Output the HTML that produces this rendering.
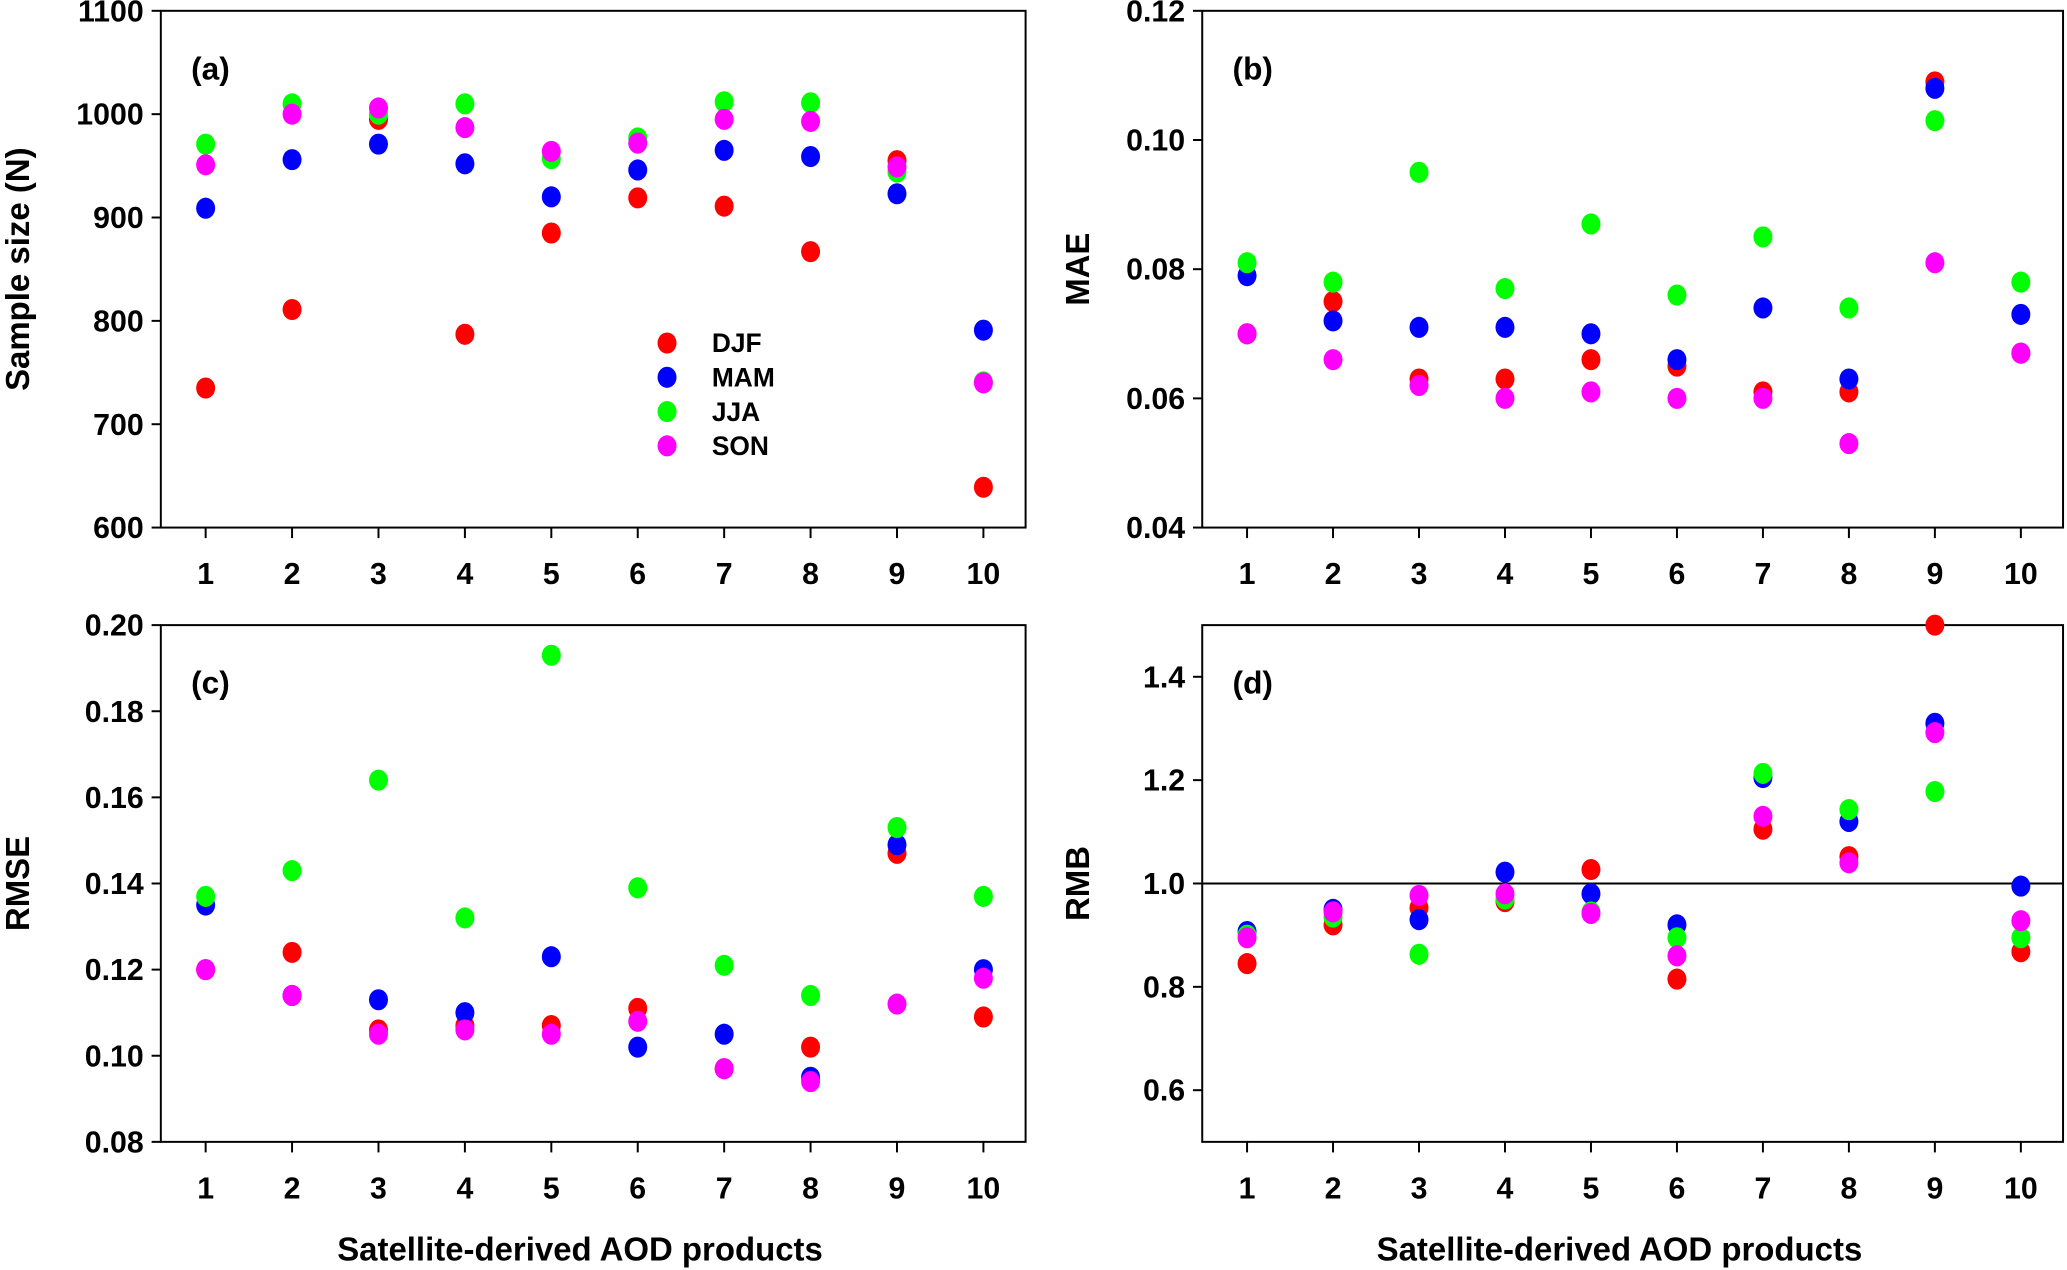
<!DOCTYPE html>
<html><head><meta charset="utf-8"><style>
html,body{margin:0;padding:0;background:#fff;}
svg{display:block;}
text{font-family:"Liberation Sans Narrow","Liberation Sans",sans-serif;font-weight:bold;fill:#000;}
.ttl{font-family:"Liberation Sans",sans-serif;}
</style></head><body>
<svg id="chart" width="2067" height="1270" viewBox="0 0 1568 963" xmlns="http://www.w3.org/2000/svg"></svg>
<script>
const categories=[1,2,3,4,5,6,7,8,9,10];
const seasons=["DJF","MAM","JJA","SON"];
const colors=["#ff0000","#0000ff","#00ff00","#ff00ff"];
const aDJF=[735,811,995,787,885,919,911,867,955,639];
const aMAM=[909,956,971,952,920,946,965,959,923,791];
const aJJA=[971,1010,1000,1010,957,977,1012,1011,944,741];
const aSON=[951,1000,1006,987,964,972,995,993,949,740];
const bDJF=[0.070,0.075,0.063,0.063,0.066,0.065,0.061,0.061,0.109,0.067];
const bMAM=[0.079,0.072,0.071,0.071,0.070,0.066,0.074,0.063,0.108,0.073];
const bJJA=[0.081,0.078,0.095,0.077,0.087,0.076,0.085,0.074,0.103,0.078];
const bSON=[0.070,0.066,0.062,0.060,0.061,0.060,0.060,0.053,0.081,0.067];
const cDJF=[0.120,0.124,0.106,0.107,0.107,0.111,0.097,0.102,0.147,0.109];
const cMAM=[0.135,0.114,0.113,0.110,0.123,0.102,0.105,0.095,0.149,0.120];
const cJJA=[0.137,0.143,0.164,0.132,0.193,0.139,0.121,0.114,0.153,0.137];
const cSON=[0.120,0.114,0.105,0.106,0.105,0.108,0.097,0.094,0.112,0.118];
const dDJF=[0.845,0.92,0.953,0.965,1.027,0.815,1.105,1.052,1.5,0.868];
const dMAM=[0.907,0.95,0.93,1.022,0.98,0.92,1.205,1.12,1.31,0.995];
const dJJA=[0.90,0.935,0.863,0.97,0.945,0.895,1.213,1.143,1.178,0.895];
const dSON=[0.895,0.945,0.977,0.98,0.942,0.86,1.13,1.04,1.292,0.928];
const aTicks=["600","700","800","900","1000","1100"];
const bTicks=["0.04","0.06","0.08","0.10","0.12"];
const cTicks=["0.08","0.10","0.12","0.14","0.16","0.18","0.20"];
const dTicks=["0.6","0.8","1.0","1.2","1.4"];

const NS="http://www.w3.org/2000/svg";
const svg=document.getElementById('chart');
function mk(tag,attrs,parent,txt){const e=document.createElementNS(NS,tag);for(const k in attrs)e.setAttribute(k,attrs[k]);if(txt!==undefined)e.textContent=txt;(parent||svg).appendChild(e);return e;}

const panels=[
 {id:"a",x0:122,x1:778,y0:8,y1:400,min:600,max:1100,ticks:aTicks,series:[aDJF,aMAM,aJJA,aSON],ytitle:"Sample size (N)",ytx:22,ref:null},
 {id:"b",x0:912,x1:1565,y0:8,y1:400,min:0.04,max:0.12,ticks:bTicks,series:[bDJF,bMAM,bJJA,bSON],ytitle:"MAE",ytx:826,ref:null},
 {id:"c",x0:122,x1:778,y0:474,y1:866,min:0.08,max:0.20,ticks:cTicks,series:[cDJF,cMAM,cJJA,cSON],ytitle:"RMSE",ytx:22,ref:null},
 {id:"d",x0:912,x1:1565,y0:474,y1:866,min:0.5,max:1.5,ticks:dTicks,series:[dDJF,dMAM,dJJA,dSON],ytitle:"RMB",ytx:826,ref:1.0}
];
panels.forEach(p=>{
 const g=mk('g',{});
 
 
 const xs=i=>p.x0+34+(i-1)*(p.x1-p.x0-34-32)/9;
 const ys=v=>p.y1-(v-p.min)/(p.max-p.min)*(p.y1-p.y0);
 const box=mk('rect',{x:p.x0,y:p.y0,width:p.x1-p.x0,height:p.y1-p.y0,fill:"none",stroke:"#000","stroke-width":1.5},g);
 
 
 p.ticks.forEach(t=>{const y=ys(parseFloat(t));
  mk('line',{x1:p.x0-7,x2:p.x0,y1:y,y2:y,stroke:"#000","stroke-width":1.5},g);
  const tl=mk('text',{x:p.x0-13,y:y+8,"text-anchor":"end","font-size":23},g,t);
  
  
 });
 categories.forEach(c=>{const x=xs(c);
  mk('line',{x1:x,x2:x,y1:p.y1,y2:p.y1+8,stroke:"#000","stroke-width":1.5},g);
  const tl=mk('text',{x:x,y:p.y1+43,"text-anchor":"middle","font-size":23},g,String(c));
  
  
 });
 if(p.ref!==null){const ln=mk('line',{x1:p.x0,x2:p.x1,y1:ys(p.ref),y2:ys(p.ref),stroke:"#000","stroke-width":1.5},g);
  
  }
 p.series.forEach((s,si)=>{s.forEach((v,i)=>{
  const d=mk('ellipse',{cx:xs(categories[i]),cy:ys(v),rx:7.2,ry:8,fill:colors[si]},g);
  
  
 });});
 const pl=mk('text',{x:p.x0+23,y:p.y0+52,"font-size":24},g,"("+p.id+")");
 
 
 const cy=(p.y0+p.y1)/2;
 const yt=mk('text',{x:p.ytx,y:cy,"text-anchor":"middle","font-size":25,class:"ttl",transform:"rotate(-90 "+p.ytx+" "+cy+")"},g,p.ytitle);
 
 
 if(p.id==="c"||p.id==="d"){const xt=mk('text',{x:(p.x0+p.x1)/2-10,y:956,"text-anchor":"middle","font-size":25},g,"Satellite-derived AOD products");
  
  }
});
const lg=mk('g',{});


seasons.forEach((s,i)=>{const y=260+i*26;
 const d=mk('ellipse',{cx:506,cy:y,rx:7.2,ry:8,fill:colors[i]},lg);
 
 
 const t=mk('text',{x:540,y:y+7,"font-size":20},lg,s);
 
 
});
</script>
</body></html>
